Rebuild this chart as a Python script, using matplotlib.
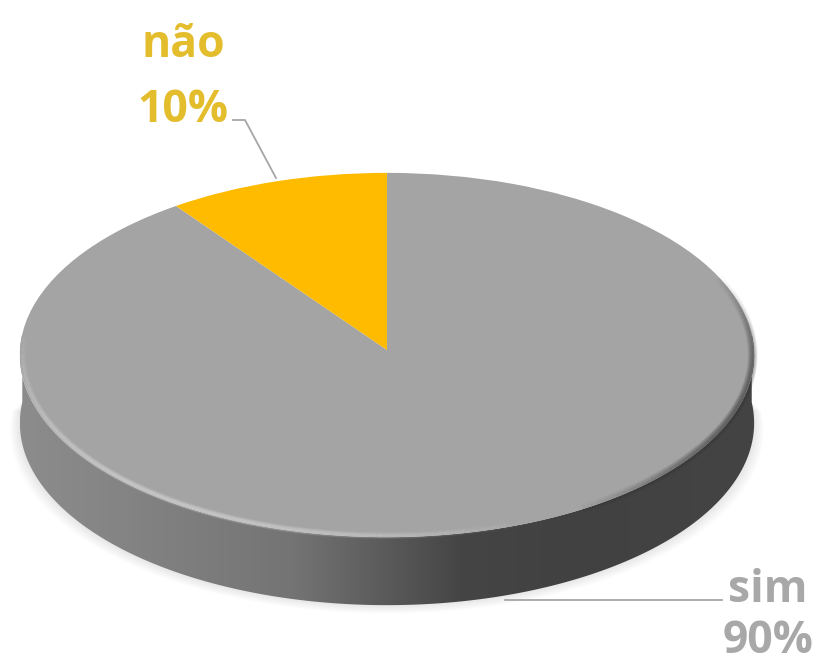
import numpy as np
import matplotlib
matplotlib.use('Agg')
import matplotlib.pyplot as plt
from matplotlib.collections import LineCollection
from matplotlib.colors import LinearSegmentedColormap, to_rgb
from matplotlib.patches import Polygon
from matplotlib.transforms import Transform

# slices, clockwise from 12 o'clock
categories = ['sim', 'não']
values = [90, 10]
colors = ['#A4A4A4', '#FEBB00']
label_colors = ['#A8A8A8', '#E3BD2C']

# disc layout in pixels
CX, CY = 387, 350
RX, RS, KP = 367, 182, 0.0275
DEPTH = 68


class Tilt(Transform):
    # unit circle -> lying disc seen in perspective, in pixel coords
    input_dims = 2
    output_dims = 2
    has_inverse = False

    def transform_non_affine(self, values):
        v = np.asarray(values, dtype=float)
        d = 1 + KP * v[:, 1]
        return np.column_stack([CX + RX * v[:, 0] / d, CY - RS * v[:, 1] / d])


def ring(t1, t2, r=1.0, n=240):
    t = np.radians(np.linspace(t1, t2, n))
    return Tilt().transform_non_affine(np.column_stack([r * np.cos(t), r * np.sin(t)]))


def rim(ax, t1, t2, r, color, peak, width):
    # blurred line around the disc, built from stacked widths, fading at both ends
    p = ring(t1, t2, r)
    segs = np.stack([p[:-1], p[1:]], axis=1)
    fade = np.sin(np.linspace(0, np.pi, len(segs))) ** 1.3
    for lw in np.linspace(width, 0.6, 8):
        rgba = np.zeros((len(segs), 4))
        rgba[:, :3] = to_rgb(color)
        rgba[:, 3] = peak * fade / 8
        ax.add_collection(LineCollection(segs, colors=rgba, linewidths=lw, capstyle='butt', zorder=5))


fig = plt.figure(figsize=(8.16, 6.66), dpi=100, facecolor='white')
ax = fig.add_axes([0, 0, 1, 1])

wedges, _ = ax.pie(values, colors=colors, startangle=90, counterclock=False, radius=1.0)
for w in wedges:
    w.set_transform(Tilt() + ax.transData)
    w.set_zorder(4)
    w.set_linewidth(0)
ax.set_aspect('auto')
ax.axis('off')

# soft shadow under the disc
front = ring(175, 365)
for i in range(1, 13):
    grown = front + [0, DEPTH + i * 0.7]
    grown[:, 0] = CX + (grown[:, 0] - CX) * (1 + i * 0.0022)
    ax.add_patch(Polygon(grown, closed=True, fc='black', ec='none', alpha=0.008, zorder=1))

# side wall with its left to right shading
wall = Polygon(np.vstack([front, (front + [0, DEPTH])[::-1]]), closed=True, fc='none', ec='none', zorder=2)
ax.add_patch(wall)
wall_cmap = LinearSegmentedColormap.from_list('wall', [
    (0.00, '#8C8C8C'), (0.12, '#858585'), (0.37, '#747474'), (0.48, '#5E5E5E'),
    (0.60, '#454545'), (0.75, '#414141'), (1.00, '#444444')])
img = ax.imshow(np.linspace(0, 1, 400)[None, :], cmap=wall_cmap, extent=(20, 755, 700, 300),
                aspect='auto', zorder=3)
img.set_clip_path(wall)
ax.set_xlim(0, 816)
ax.set_ylim(666, 0)

# bevel on the top face
rim(ax, 165, 300, 0.992, '#E4E4E4', 0.85, 5)
rim(ax, 300, 385, 0.996, '#3A3A3A', 0.9, 7)

# leader lines
ax.plot([276, 245, 233], [178, 120, 120], color='#A6A6A6', lw=1.3, zorder=6)
ax.plot([505, 722], [600, 600], color='#A6A6A6', lw=1.3, zorder=6)

# value labels
font = dict(family='Open Sans', fontweight='bold', fontsize=32, ha='center', va='baseline', zorder=7)
ax.text(768, 602, categories[0], color=label_colors[0], **font)
ax.text(768, 653, f'{values[0]}%', color=label_colors[0], **font)
ax.text(183, 57, categories[1], color=label_colors[1], **font)
ax.text(183, 122, f'{values[1]}%', color=label_colors[1], **font)

fig.savefig('out.png', dpi=100)
